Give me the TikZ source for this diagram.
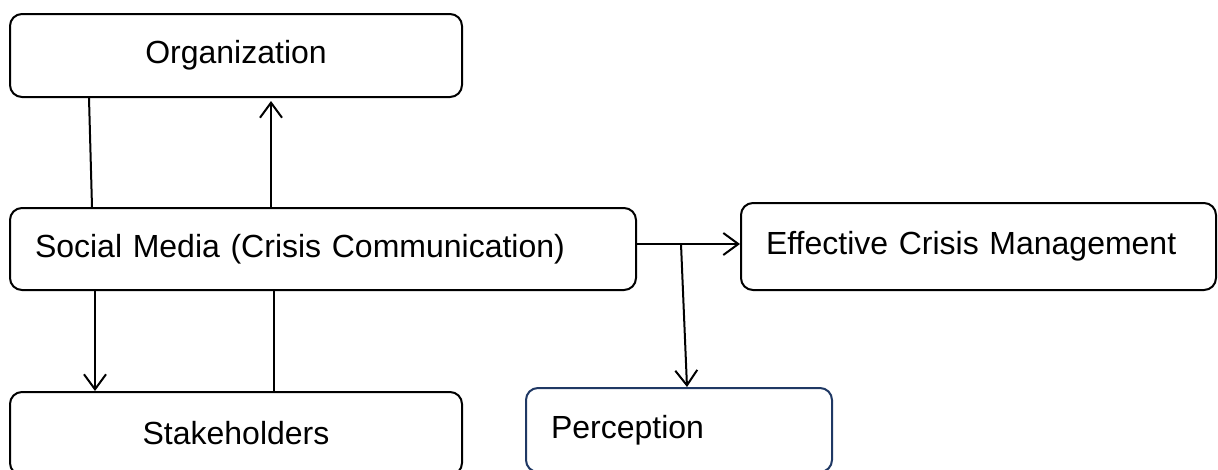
\documentclass[tikz,border=0pt]{standalone}
\usepackage{fontspec}
\setmainfont{Liberation Sans}
\usetikzlibrary{arrows.meta}
\definecolor{navy}{RGB}{31,56,100}

\begin{document}
\begin{tikzpicture}[x=1pt, y=-1pt, line width=2pt,
    >={Straight Barb[length=15pt, width=22pt]},
    box/.style={draw, rounded corners=12pt, inner sep=0pt,
      font=\fontsize{32}{38}\selectfont},
    lbox/.style={box, align=left, inner xsep=25pt}]
    \useasboundingbox (0,0) rectangle (1218,469);
    \clip (0,0) rectangle (1218,469);

    \node [box, minimum width=452pt, minimum height=83pt] (org) at (236, 55.5) {Organization};
    \node [lbox, text width=576pt, minimum height=82pt] (soc) at (323, 249) {Social Media (Crisis Communication)};
    \node [lbox, text width=425pt, minimum height=87pt] (ecm) at (978.5, 246.5) {Effective Crisis Management};
    \node [box, minimum width=452pt, minimum height=83pt] (stk) at (236, 433.5) {Stakeholders};
    \node [lbox, draw=navy, text width=256pt, minimum height=84pt] (per) at (679, 430) {Perception};

    \draw ([xshift=80pt]org.south west) -- ([xshift=83pt]soc.north west);
    \draw [->] ([xshift=262pt]soc.north west) -- ([xshift=262pt, yshift=-3pt]org.south west);
    \draw [->] ([xshift=86pt]soc.south west) -- ([xshift=86pt]stk.north west);
    \draw ([xshift=265pt]stk.north west) -- ([xshift=265pt]soc.south west);

    \draw [->] ([yshift=5pt]soc.east) -- ([yshift=5pt]soc.east -| ecm.west);
    \coordinate (split) at ([xshift=44pt, yshift=5pt]soc.east);
    \draw [->] (split) -- ([xshift=162pt]per.north west);
  \end{tikzpicture}
\end{document}
